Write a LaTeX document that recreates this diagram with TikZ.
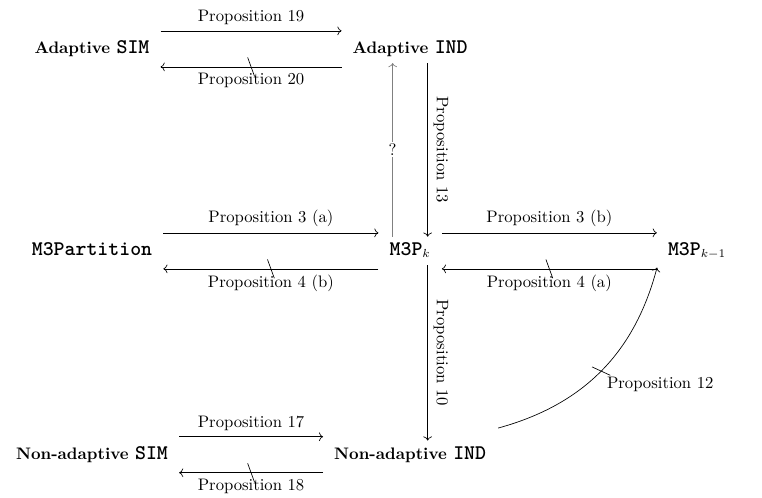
\documentclass[tikz,border=0pt]{standalone}
\usepackage{fontspec}
\setmonofont{lmmonolt10-regular.otf}[BoldFont=lmmonolt10-bold.otf,Scale=1.25]
\usepackage{tikz}
\usetikzlibrary{arrows.meta,positioning,calc,decorations.markings}

\tikzset{
  obj/.style={font=\bfseries,inner xsep=0.65em,inner ysep=0.4em,text height=1.6ex,text depth=0.4ex},
  notimp/.style={postaction={decorate,decoration={markings,
    mark=at position 0.5 with {\draw[-] (-70:6pt) -- (110:6pt);}}}}
}

\begin{document}
\begin{tikzpicture}[font=\normalsize,>=To]
\useasboundingbox (0,0) rectangle (16.07,10.50);
% nodes
\node[obj] (asim)  at (1.94,9.47) {Adaptive \texttt{SIM}};
\node[obj] (aind)  at (8.65,9.47) {Adaptive \texttt{IND}};
\node[obj] (mpart) at (1.94,5.21) {\texttt{M3Partition}};
\node[obj] (m3pk)  at (8.65,5.21) {\texttt{M3P}$_k$};
\node[obj] (m3pkk) at (14.70,5.21) {\texttt{M3P}$_{k-1}$};
\node[obj] (nsim)  at (1.94,0.91) {Non-adaptive \texttt{SIM}};
\node[obj] (nind)  at (8.65,0.91) {Non-adaptive \texttt{IND}};
% top row
\draw[->] ([yshift=10.8pt]asim.east) -- ([yshift=10.8pt]aind.west)
  node[midway,above]{Proposition 19};
\draw[->,notimp] ([yshift=-10.8pt]aind.west) -- ([yshift=-10.8pt]asim.east)
  node[midway,below]{Proposition 20};
% middle row
\draw[->] ([yshift=10.8pt]mpart.east) -- ([yshift=10.8pt]m3pk.west)
  node[midway,above]{Proposition 3 (a)};
\draw[->,notimp] ([yshift=-10.8pt]m3pk.west) -- ([yshift=-10.8pt]mpart.east)
  node[midway,below]{Proposition 4 (b)};
\draw[->] ([yshift=10.8pt]m3pk.east) -- ([yshift=10.8pt]m3pkk.west)
  node[midway,above]{Proposition 3 (b)};
\draw[->,notimp] ([yshift=-10.8pt]m3pkk.west) -- ([yshift=-10.8pt]m3pk.east)
  node[midway,below]{Proposition 4 (a)};
% bottom row
\draw[->] ([yshift=10.8pt]nsim.east) -- ([yshift=10.8pt]nind.west)
  node[midway,above]{Proposition 17};
\draw[->,notimp] ([yshift=-10.8pt]nind.west) -- ([yshift=-10.8pt]nsim.east)
  node[midway,below]{Proposition 18};
% vertical arrows
\draw[->,gray] ([xshift=-10.5pt]m3pk.north) -- ([xshift=-10.5pt]aind.south)
  node[midway,fill=white,inner sep=1pt,text=black]{?};
\draw[->] ([xshift=10.5pt]aind.south) -- ([xshift=10.5pt]m3pk.north)
  node[midway,anchor=south,rotate=-90]{Proposition 13};
\draw[->] ([xshift=10.5pt]m3pk.south) -- ([xshift=10.5pt]nind.north)
  node[midway,anchor=south,rotate=-90]{Proposition 10};
% curved arrow
\draw[->,notimp] ([xshift=52.8pt,yshift=7.5pt]nind.north) to[bend right=30]
  node[midway,anchor=north west]{Proposition 12} ([xshift=-24pt,yshift=-1.5pt]m3pkk.south);
\end{tikzpicture}
\end{document}
